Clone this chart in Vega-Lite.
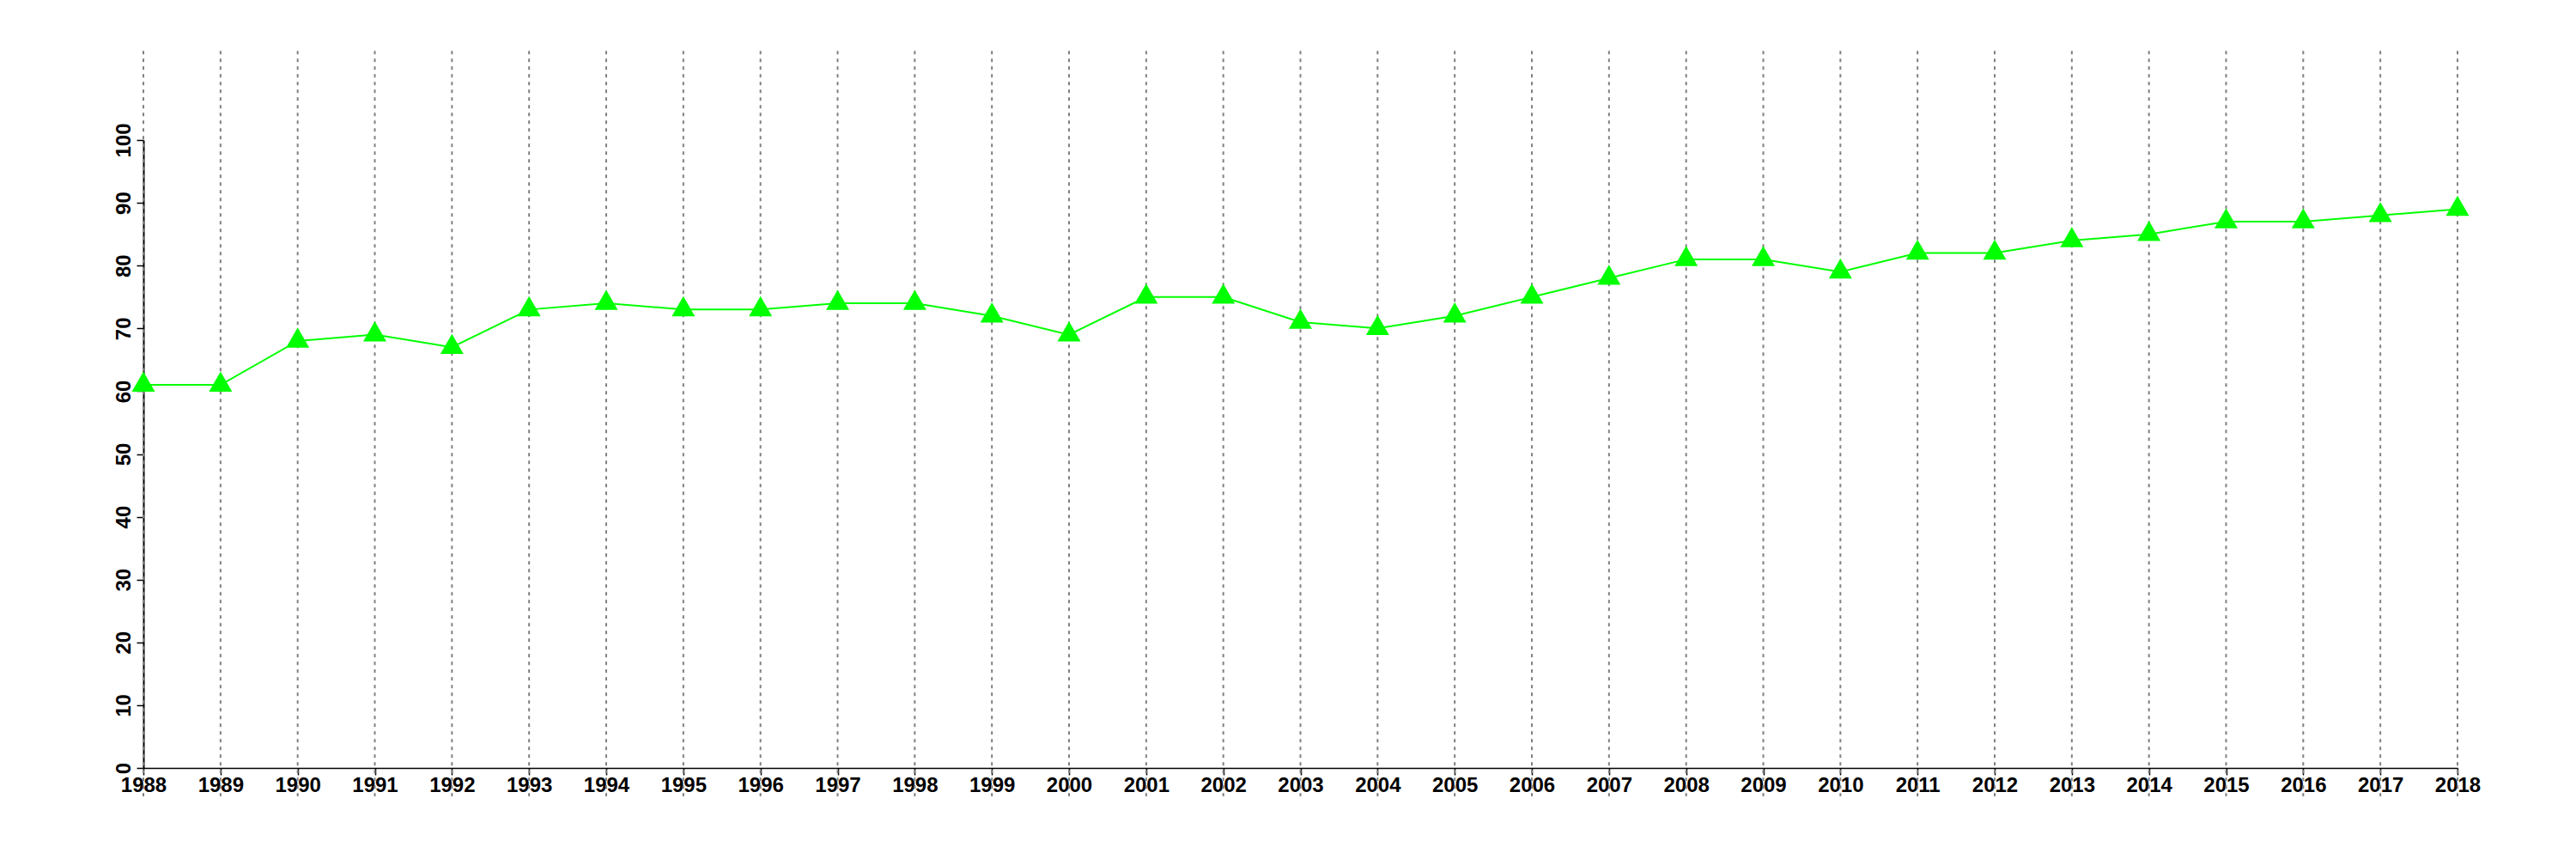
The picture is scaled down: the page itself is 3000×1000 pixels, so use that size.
{
  "$schema": "https://vega.github.io/schema/vega-lite/v6.json",
  "autosize": {"type": "none"},
  "width": 2695,
  "height": 731,
  "padding": {"left": 167, "top": 163, "right": 138, "bottom": 106},
  "background": "white",
  "config": {"view": {"stroke": null}},
  "data": {"values": [
    {"year": 1988, "value": 61}, {"year": 1989, "value": 61}, {"year": 1990, "value": 68},
    {"year": 1991, "value": 69}, {"year": 1992, "value": 67}, {"year": 1993, "value": 73},
    {"year": 1994, "value": 74}, {"year": 1995, "value": 73}, {"year": 1996, "value": 73},
    {"year": 1997, "value": 74}, {"year": 1998, "value": 74}, {"year": 1999, "value": 72},
    {"year": 2000, "value": 69}, {"year": 2001, "value": 75}, {"year": 2002, "value": 75},
    {"year": 2003, "value": 71}, {"year": 2004, "value": 70}, {"year": 2005, "value": 72},
    {"year": 2006, "value": 75}, {"year": 2007, "value": 78}, {"year": 2008, "value": 81},
    {"year": 2009, "value": 81}, {"year": 2010, "value": 79}, {"year": 2011, "value": 82},
    {"year": 2012, "value": 82}, {"year": 2013, "value": 84}, {"year": 2014, "value": 85},
    {"year": 2015, "value": 87}, {"year": 2016, "value": 87}, {"year": 2017, "value": 88},
    {"year": 2018, "value": 89}
  ]},
  "encoding": {
    "x": {
      "field": "year", "type": "ordinal",
      "scale": {"type": "point", "padding": 0},
      "axis": {
        "title": null, "labelAngle": 0, "grid": false,
        "domainColor": "black", "domainWidth": 1.5,
        "tickColor": "black", "tickSize": 8, "tickWidth": 1.5,
        "labelFont": "Liberation Sans", "labelFontWeight": "bold", "labelFontSize": 24,
        "labelColor": "black", "labelPadding": 0, "labelBaseline": "top"
      }
    }
  },
  "layer": [
    {
      "mark": {"type": "rule", "color": "#808080", "strokeWidth": 2, "strokeDash": [4, 5], "clip": false},
      "encoding": {
        "y": {"datum": 114.2, "type": "quantitative", "scale": {"domain": [0, 100], "nice": false, "zero": true}},
        "y2": {"datum": -4.5}
      }
    },
    {
      "mark": {"type": "line", "color": "#00ff00", "strokeWidth": 2},
      "encoding": {
        "y": {
          "field": "value", "type": "quantitative",
          "scale": {"domain": [0, 100], "nice": false},
          "axis": {
            "title": null, "grid": false, "values": [0,10,20,30,40,50,60,70,80,90,100],
            "domainColor": "black", "domainWidth": 2,
            "tickColor": "black", "tickSize": 8, "tickWidth": 1.5,
            "labelFont": "Liberation Sans", "labelFontWeight": "bold", "labelFontSize": 24,
            "labelColor": "black", "labelAngle": -90, "labelAlign": "center",
            "labelBaseline": "alphabetic", "labelPadding": 8
          }
        }
      }
    },
    {
      "mark": {"type": "point", "shape": "M0,-1.155L1,0.577L-1,0.577Z", "size": 729, "filled": true, "color": "#00ff00", "opacity": 1},
      "encoding": {
        "y": {"field": "value", "type": "quantitative"}
      }
    }
  ]
}
